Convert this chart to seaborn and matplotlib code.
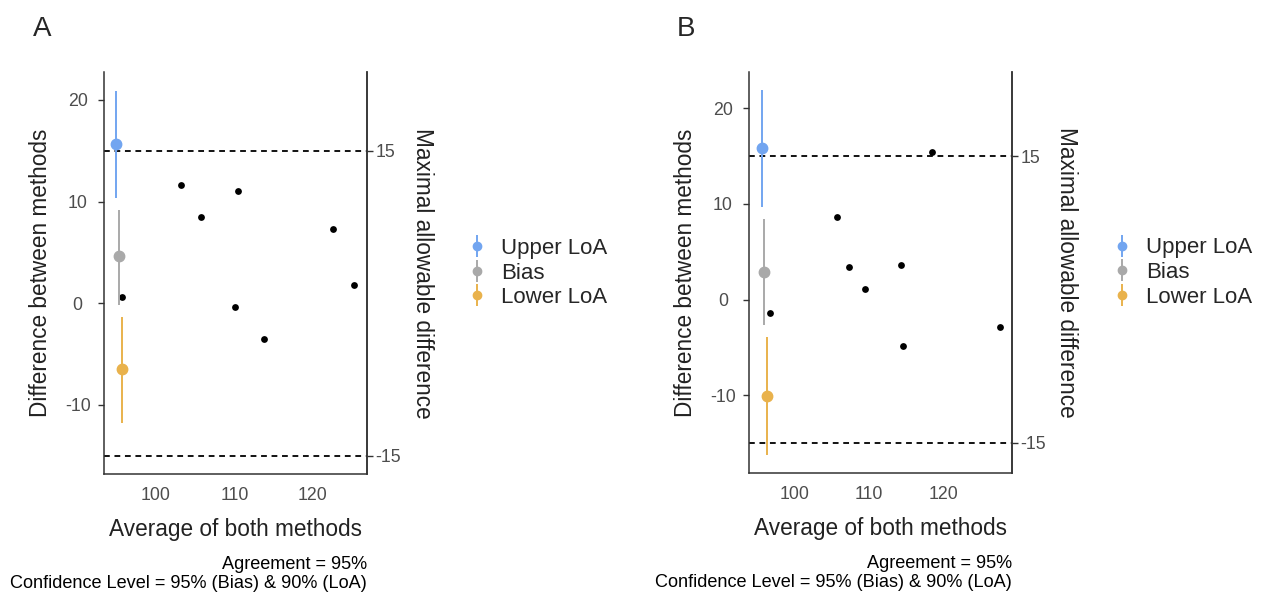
import pandas as pd
import matplotlib.pyplot as plt
import seaborn as sns

# Panel A data
a_avg = [95.7, 103.2, 105.8, 110.4, 110.1, 113.8, 122.5, 125.2]
a_diff = [0.6, 11.6, 8.5, 11.0, -0.4, -3.5, 7.3, 1.8]
a_stat_x = [94.9, 95.3, 95.7]
a_stat_y = [15.7, 4.6, -6.5]
a_ci_lo = [10.4, -0.2, -11.8]
a_ci_hi = [20.9, 9.2, -1.4]

# Panel B data
b_avg = [96.7, 105.7, 107.3, 109.5, 114.3, 114.5, 118.4, 127.5]
b_diff = [-1.4, 8.6, 3.4, 1.1, 3.6, -4.9, 15.4, -2.9]
b_stat_x = [95.7, 96.0, 96.35]
b_stat_y = [15.8, 2.85, -10.1]
b_ci_lo = [9.7, -2.7, -16.3]
b_ci_hi = [21.9, 8.4, -3.9]

stat_names = ['Upper LoA', 'Bias', 'Lower LoA']
stat_colors = ['#72a5f0', '#a9a9a9', '#e9b24c']
max_allowed = [-15, 15]
x_ticks = [100, 110, 120]
y_ticks = [-10, 0, 10, 20]

sns.set_style('white')
plt.rcParams['font.family'] = ['Liberation Sans', 'DejaVu Sans']
plt.rcParams['axes.unicode_minus'] = False

fig = plt.figure(figsize=(12.61, 5.94), dpi=100)


def draw_panel(rect, avg, diff, sx, sy, lo, hi, xlim, ylim, letter, letter_x):
    ax = fig.add_axes(rect)
    sns.scatterplot(x=avg, y=diff, color='black', s=24, linewidth=0, ax=ax, zorder=3)

    handles = []
    for i, name in enumerate(stat_names):
        h = ax.errorbar(sx[i], sy[i], yerr=[[sy[i] - lo[i]], [hi[i] - sy[i]]],
                        fmt='o', color=stat_colors[i], ms=7.5, elinewidth=1.4,
                        capsize=0, label=name, zorder=4)
        handles.append(h)

    for v in max_allowed:
        ax.axhline(v, color='black', lw=1.3, ls=(0, (3.2, 2.6)), zorder=2)

    ax.set_xlim(xlim)
    ax.set_ylim(ylim)
    ax.set_xticks(x_ticks)
    ax.set_yticks(y_ticks)
    ax.tick_params(axis='both', direction='out', length=4.5, width=1.0,
                   color='#333333', labelsize=12.8, labelcolor='#4d4d4d')
    ax.tick_params(axis='x', pad=5)
    ax.tick_params(axis='y', pad=14.5)
    for t in ax.get_yticklabels():
        t.set_ha('center')
    ax.spines['top'].set_visible(False)
    for s in ['left', 'bottom', 'right']:
        ax.spines[s].set_color('#333333')
        ax.spines[s].set_linewidth(1.1)

    ax.set_xlabel('Average of both methods', fontsize=16.3, color='#222222')
    ax.xaxis.label.set_va('center')
    ax.xaxis.set_label_coords(0.5, -0.139)
    ax.set_ylabel('Difference between methods', fontsize=16.3, color='#222222')
    ax.yaxis.label.set_va('center')
    ax.yaxis.set_label_coords(-0.243, 0.5)

    ax2 = ax.twinx()
    ax2.set_ylim(ylim)
    ax2.set_yticks(max_allowed)
    ax2.tick_params(axis='y', direction='out', length=4.5, width=1.0,
                    color='#333333', labelsize=12.8, labelcolor='#4d4d4d', pad=1.5)
    for s in ['top', 'left', 'bottom']:
        ax2.spines[s].set_visible(False)
    ax2.spines['right'].set_color('#333333')
    ax2.spines['right'].set_linewidth(1.1)
    ax2.set_ylabel('Maximal allowable difference', fontsize=16.3, color='#222222',
                   rotation=270)
    ax2.yaxis.label.set_va('center')
    ax2.yaxis.set_label_coords(1.209, 0.5)

    ax.legend(handles=handles, labels=stat_names, loc='center left',
              bbox_to_anchor=(1.384, 0.5), frameon=False, fontsize=16,
              handlelength=0.8, handletextpad=0.7, labelspacing=0.16,
              borderaxespad=0, borderpad=0, markerscale=0.8)

    ax.text(1.0, -0.225, 'Agreement = 95%', transform=ax.transAxes,
            ha='right', va='center', fontsize=13.1, color='black')
    ax.text(1.0, -0.273, 'Confidence Level = 95% (Bias) & 90% (LoA)',
            transform=ax.transAxes, ha='right', va='center', fontsize=13.1,
            color='black')
    fig.text(letter_x, 1 - 29 / 594, letter, ha='center', va='center', fontsize=20)
    return ax


draw_panel([0.0825, 0.2020, 0.2086, 0.6768], a_avg, a_diff, a_stat_x, a_stat_y,
           a_ci_lo, a_ci_hi, (93.4, 126.9), (-16.8, 22.75), 'A', 42 / 1261)
draw_panel([0.5942, 0.2037, 0.2083, 0.6751], b_avg, b_diff, b_stat_x, b_stat_y,
           b_ci_lo, b_ci_hi, (93.99, 129.1), (-18.15, 23.8), 'B', 686 / 1261)

plt.savefig('out.png', dpi=100)
